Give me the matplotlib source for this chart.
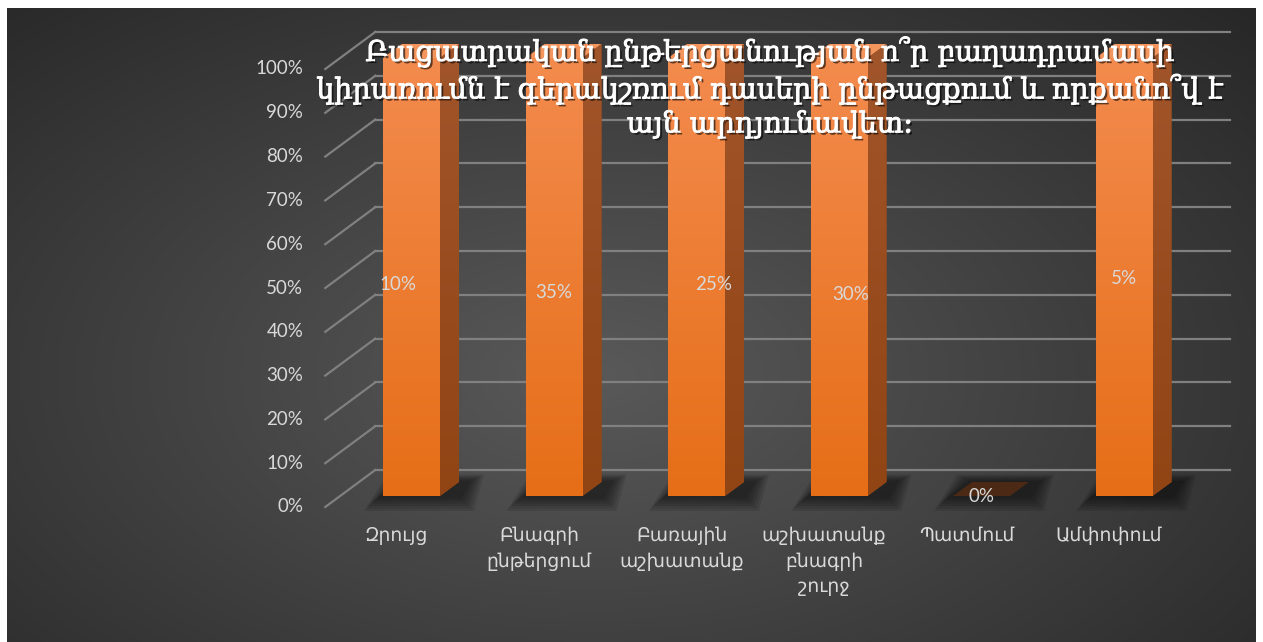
import numpy as np
import matplotlib.pyplot as plt
from matplotlib.patches import Polygon
from matplotlib import patheffects as pe

categories = ['Զրույց', 'Բնագրի\nընթերցում', 'Բառային\nաշխատանք',
              'աշխատանք\nբնագրի\nշուրջ', 'Պատմում', 'Ամփոփում']
bar_heights = [100, 100, 100, 100, 0, 100]
label_values = [10, 35, 25, 30, 0, 5]
yticks = [0, 10, 20, 30, 40, 50, 60, 70, 80, 90, 100]
title = ('Բացատրական ընթերցանության ո՞ր բաղադրամասի\n'
         'կիրառումն է գերակշռում դասերի ընթացքում և որքանո՞վ է\n'
         'այն արդյունավետ:')

# layout (pixels)
W, H = 1263, 642
sx, sy = 142.5, 4.38          # px per category / px per percent
x0_px, y0_px = 411.5, 496     # first bar centre, bar floor (from top)

def off(dx, dy):
    return dx / sx, dy / sy

fdx, fdy = off(-15, -11)      # front grid plane
bdx, bdy = off(35, 26)        # back wall
ddx, ddy = off(19, 14)        # bar depth
bw = 0.4

label_nudge = [(-14, 7), (0, 15), (17, 8), (12, 18), (0, 1), (0, 1)]  # px, y down

fig = plt.figure(figsize=(W / 100, H / 100), dpi=100)
fig.patch.set_facecolor('white')

# background with radial gradient
bg = fig.add_axes([7 / W, 0, 1249 / W, 634 / H])
yy, xx = np.mgrid[0:1:300j, 0:1:600j]
r = np.sqrt(((xx - 0.47) / 0.75) ** 2 + ((yy - 0.42) / 0.85) ** 2)
r = np.clip(r, 0, 1)
c0, c1 = np.array([0.35, 0.35, 0.35]), np.array([0.15, 0.15, 0.15])
img = c0[None, None, :] * (1 - r[..., None]) + c1[None, None, :] * r[..., None]
bg.imshow(img, aspect='auto', extent=[0, 1, 0, 1], origin='lower')
bg.axis('off')

ax = fig.add_axes([0, 0, 1, 1])
ax.patch.set_visible(False)
ax.axis('off')
ax.set_xlim(-x0_px / sx, (W - x0_px) / sx)
ax.set_ylim(-(H - y0_px) / sy, y0_px / sy)

n = len(categories)
left, right = -0.5, n - 0.5
grid_col = '#808080'
for t in yticks:
    ax.plot([left + fdx, left + bdx], [t + fdy, t + bdy], color=grid_col, lw=1.6, zorder=1)
    ax.plot([left + bdx, right + bdx], [t + bdy, t + bdy], color=grid_col, lw=1.6, zorder=1)
    ax.text(left + fdx - 22 / sx, t + fdy, f'{t}%', ha='right', va='center',
            color='#d9d9d9', fontsize=13.5, family=['Lato', 'DejaVu Sans'])

def grad_fill(patch, top_col, bot_col, ext, z):
    g = np.linspace(0, 1, 100)[:, None, None]
    im = np.array(bot_col)[None, None, :] * (1 - g) + np.array(top_col)[None, None, :] * g
    art = ax.imshow(im, aspect='auto', extent=ext, origin='lower', zorder=z)
    art.set_clip_path(patch)

hex2 = lambda h: [int(h[i:i + 2], 16) / 255 for i in (1, 3, 5)]

for i, h in enumerate(bar_heights):
    xl, xr = i - bw / 2, i + bw / 2
    # soft floor shadow
    for k in range(6):
        m = (6 - k) * 2.5
        shp = Polygon([(xl - (m + 4) / sx, -m / sy), (xr + ddx + m / sx, -m / sy),
                       (xr + ddx + (m + 10) / sx, ddy + m / 2 / sy), (xl + ddx - m / sx, ddy + m / 2 / sy)],
                      closed=True, facecolor='black', edgecolor='none', alpha=0.1, zorder=2)
        ax.add_patch(shp)
    if h > 0:
        side = Polygon([(xr, 0), (xr + ddx, ddy), (xr + ddx, h + ddy), (xr, h)],
                       closed=True, facecolor='#95491a', edgecolor='none', zorder=3)
        ax.add_patch(side)
        grad_fill(side, hex2('#a1552a'), hex2('#914414'), [xr, xr + ddx, 0, h + ddy], 3.1)
        top = Polygon([(xl, h), (xr, h), (xr + ddx, h + ddy), (xl + ddx, h + ddy)],
                      closed=True, facecolor='#f3955c', edgecolor='none', zorder=3)
        ax.add_patch(top)
        front = ax.bar(i, h, width=bw, color='#ec7a2c', zorder=4)[0]
        grad_fill(front, hex2('#f38b4e'), hex2('#e66e17'), [xl, xr, 0, h], 4.1)
    else:
        top = Polygon([(xl, h), (xr, h), (xr + ddx, h + ddy), (xl + ddx, h + ddy)],
                      closed=True, facecolor='#4b2914', edgecolor='none', zorder=3)
        ax.add_patch(top)
    nx, ny = label_nudge[i]
    ax.text(i + nx / sx, h / 2 - ny / sy, f'{label_values[i]}%', ha='center', va='center',
            color='#d9d9d9', fontsize=13.5, family=['Lato', 'DejaVu Sans'], zorder=6)

for i, lab in enumerate(categories):
    ax.text(i + fdx, -31 / sy, lab, ha='center', va='top', color='#d9d9d9',
            fontsize=13.5, linespacing=1.5, family=['Noto Sans', 'DejaVu Sans'])

ax.text((770 - x0_px) / sx, (y0_px - 37) / sy, title, ha='center', va='top',
        color='white', fontsize=20.5, linespacing=1.3,
        family=['DejaVu Serif', 'DejaVu Sans'], zorder=8,
        path_effects=[pe.withStroke(linewidth=0.8, foreground='white'),
                      pe.withSimplePatchShadow(offset=(1.5, -1.5), shadow_rgbFace='black', alpha=0.6),
                      pe.Normal()])

fig.savefig('out.png', dpi=100, facecolor='white')
